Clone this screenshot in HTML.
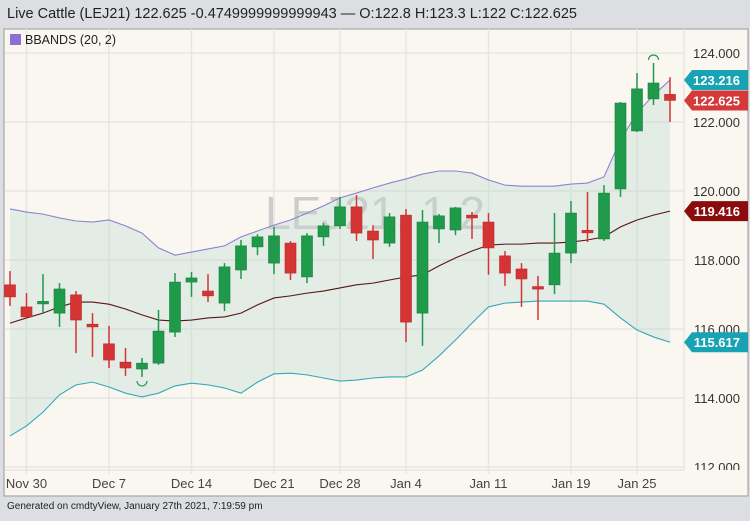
<!DOCTYPE html>
<html><head><meta charset="utf-8"><style>
body{margin:0;width:750px;height:516px;background:#dcdee2;font-family:"Liberation Sans",sans-serif;overflow:hidden}
</style></head><body>
<svg id="c" width="750" height="516" xmlns="http://www.w3.org/2000/svg">
<defs><clipPath id="yclip"><rect x="684" y="29" width="64" height="441"/></clipPath></defs>
<text x="7" y="18" font-size="14.5" fill="#222">Live Cattle (LEJ21) 122.625 -0.4749999999999943 — O:122.8 H:123.3 L:122 C:122.625</text>
<rect x="4" y="29" width="744" height="467" fill="#faf7f1" stroke="#9a9a9a"/>
<g id="grid"></g>
<text x="375" y="229" font-size="46" fill="#bdbdbd" fill-opacity="0.75" text-anchor="middle">LEJ21, 1.2</text>
<g id="bands"></g>
<g id="candles"></g>
<g id="yaxis" clip-path="url(#yclip)"></g>
<g id="axis"></g>
<rect x="10" y="34" width="11" height="11" fill="#8e6fd6"/>
<text x="25" y="44" font-size="12.5" fill="#222">BBANDS (20, 2)</text>
<text x="7" y="509" font-size="10" fill="#222">Generated on cmdtyView, January 27th 2021, 7:19:59 pm</text>
</svg>
<script>
const opens=[117.28,116.64,116.77,116.46,116.99,116.14,115.57,115.04,114.84,115.01,115.91,117.36,117.10,116.75,117.71,118.38,117.91,118.49,117.51,118.67,118.99,119.54,118.84,118.49,119.30,116.46,118.90,118.87,119.30,119.10,118.12,117.74,117.23,117.28,118.20,118.86,118.61,120.06,121.74,122.67,122.8];
const highs=[117.68,117.04,117.59,117.33,117.10,116.46,116.09,115.45,115.16,116.55,117.62,117.65,117.59,117.91,118.58,118.75,118.96,118.55,118.78,119.07,119.83,119.88,119.01,119.36,119.48,119.45,119.33,119.54,119.39,119.36,118.26,117.91,117.54,119.36,119.71,119.97,120.17,122.58,123.42,123.71,123.3];
const lows=[116.67,116.32,116.46,116.06,115.30,115.19,114.87,114.64,114.61,114.96,115.77,116.93,116.78,116.52,117.45,118.14,117.59,117.42,117.33,118.41,118.90,118.55,118.03,118.38,115.62,115.51,118.49,118.72,118.61,117.57,117.25,116.64,116.26,117.01,117.91,118.52,118.55,119.83,121.71,122.49,122.0];
const closes=[116.93,116.35,116.80,117.16,116.26,116.06,115.10,114.87,115.01,115.94,117.36,117.48,116.96,117.80,118.41,118.67,118.70,117.62,118.70,118.99,119.54,118.78,118.58,119.25,116.20,119.10,119.28,119.51,119.22,118.35,117.62,117.45,117.20,118.20,119.36,118.81,119.94,122.55,122.96,123.13,122.625];
const upper=[119.48,119.39,119.33,119.22,119.13,119.10,119.16,118.99,118.78,118.35,118.14,118.23,118.32,118.41,118.67,118.84,119.01,119.16,119.36,119.57,119.80,119.94,120.09,120.23,120.35,120.49,120.58,120.58,120.52,120.32,120.17,120.14,120.14,120.14,120.20,120.23,120.41,121.48,122.26,122.78,123.216];
const middle=[116.17,116.32,116.46,116.64,116.78,116.78,116.72,116.58,116.41,116.26,116.23,116.26,116.32,116.35,116.46,116.70,116.90,116.96,117.04,117.10,117.19,117.28,117.33,117.42,117.51,117.57,117.83,118.06,118.26,118.43,118.46,118.46,118.49,118.49,118.52,118.58,118.67,118.96,119.16,119.30,119.416];
const lower=[112.90,113.19,113.59,114.09,114.38,114.46,114.32,114.14,114.03,114.14,114.35,114.43,114.38,114.29,114.14,114.46,114.70,114.72,114.67,114.58,114.49,114.52,114.58,114.61,114.61,114.81,115.22,115.68,116.17,116.64,116.75,116.78,116.81,116.81,116.81,116.81,116.72,116.32,115.97,115.77,115.617];
const yTicks=[112,114,116,118,120,122,124];
const xLabels=["Nov 30","Dec 7","Dec 14","Dec 21","Dec 28","Jan 4","Jan 11","Jan 19","Jan 25"];
const xLabelIdx=[1,6,11,16,20,24,29,34,38];
const NS="http://www.w3.org/2000/svg";
const X=i=>10+i*16.5;
const Y=v=>53+(124-v)*34.5;
function mk(tag,attrs,parent){const e=document.createElementNS(NS,tag);for(const k in attrs)e.setAttribute(k,attrs[k]);parent.appendChild(e);return e;}
const grid=document.getElementById('grid'),bands=document.getElementById('bands'),cg=document.getElementById('candles'),ax=document.getElementById('axis'),yax=document.getElementById('yaxis');
yTicks.forEach(t=>{const l=mk('line',{x1:5,x2:684,y1:Y(t),y2:Y(t),stroke:'#e8e5df','stroke-width':1.5},grid);


const tx=mk('text',{x:740,y:Y(t)+5,'font-size':13,fill:'#333','text-anchor':'end'},yax);tx.textContent=t.toFixed(3);

});
mk('line',{x1:684,x2:684,y1:29,y2:470,stroke:'#e8e5df','stroke-width':1.5},grid);
mk('line',{x1:5,x2:684,y1:470,y2:470,stroke:'#e8e5df','stroke-width':1.5},grid);
xLabels.forEach((s,k)=>{const x=X(xLabelIdx[k]);const l=mk('line',{x1:x,x2:x,y1:29,y2:474,stroke:'#e8e5df','stroke-width':1.5},grid);


const tx=mk('text',{x:x,y:488,'font-size':13,fill:'#444','text-anchor':'middle'},ax);tx.textContent=s;

});
let d='M'+upper.map((v,i)=>X(i)+','+Y(v)).join('L')+'L'+lower.map((v,i)=>[X(i),Y(v)]).reverse().map(p=>p.join(',')).join('L')+'Z';
const f=mk('path',{d:d,fill:'#b9d8d2','fill-opacity':0.35},bands);


[[upper,'#8a84d0','upper-band'],[middle,'#5a1414','middle-band'],[lower,'#35a8b8','lower-band']].forEach(([a,c,n])=>{
const p=mk('polyline',{points:a.map((v,i)=>X(i)+','+Y(v)).join(' '),fill:'none',stroke:c,'stroke-width':1.1},bands);

});
opens.forEach((o,i)=>{const c=closes[i],up=c>=o,col=up?'#1f9a4a':'#d53434',x=X(i);
const g=mk('g',{},cg);


mk('line',{x1:x,x2:x,y1:Y(highs[i]),y2:Y(lows[i]),stroke:col,'stroke-width':1.5},g);
const t=Y(Math.max(o,c)),h=Math.max(2.5,Math.abs(Y(o)-Y(c)));
mk('rect',{x:x-5.5,y:t,width:11,height:h,fill:col,stroke:up?'#1a7f3d':'#b82a2a','stroke-width':0.6},g);});
const lo=lows.indexOf(Math.min(...lows)),hi=highs.indexOf(Math.max(...highs));
const m1=mk('path',{d:`M${X(lo)-5},${Y(lows[lo])+4} a5,5 0 0 0 10,0`,fill:'none',stroke:'#1f9a4a','stroke-width':1.2},cg);


const m2=mk('path',{d:`M${X(hi)-5},${Y(highs[hi])-3} a5,5 0 0 1 10,0`,fill:'none',stroke:'#1f9a4a','stroke-width':1.2},cg);


const last=closes.length-1;
[[upper[last],'#17a3b4','upper-band-tag'],[closes[last],'#d53a3a','price-tag'],[middle[last],'#8a0c0c','middle-band-tag'],[lower[last],'#17a3b4','lower-band-tag']].forEach(([v,c,n])=>{
const y=Y(v);const g=mk('g',{},ax);


mk('path',{d:`M684,${y} L692,${y-10} L748,${y-10} L748,${y+10} L692,${y+10} Z`,fill:c},g);
const t=mk('text',{x:740,y:y+5,'font-size':13,'font-weight':'bold',fill:'#fff','text-anchor':'end'},g);t.textContent=v.toFixed(3);});
</script>
</body></html>
